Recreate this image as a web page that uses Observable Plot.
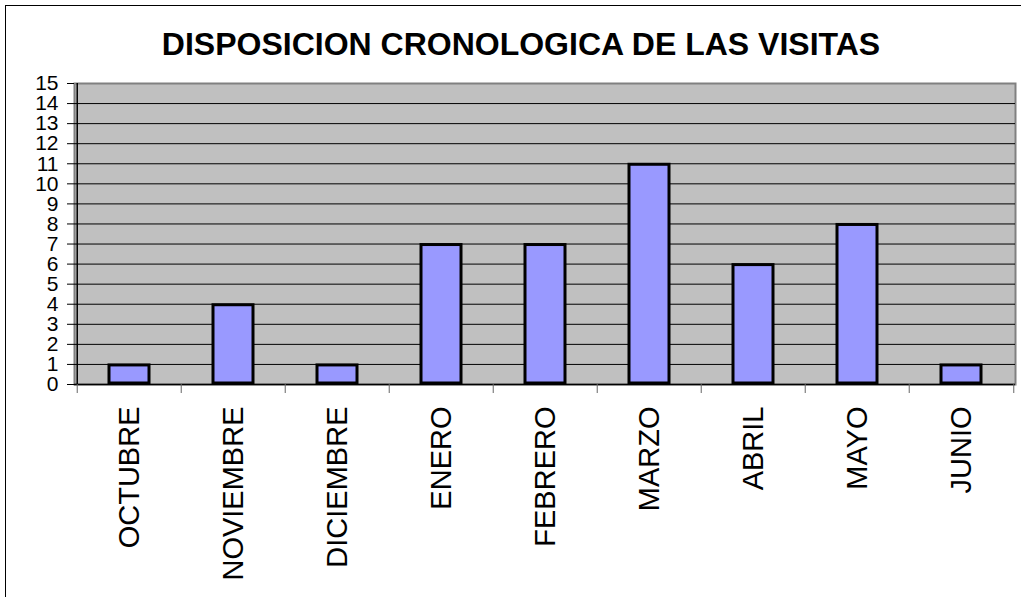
<!DOCTYPE html>
<html>
<head>
<meta charset="utf-8">
<script src="https://cdn.jsdelivr.net/npm/d3@7"></script>
<script src="https://cdn.jsdelivr.net/npm/@observablehq/plot@0.6"></script>
<style>
  html, body { margin: 0; padding: 0; background: #fff; overflow: hidden; }
  #wrap { position: relative; width: 1021px; height: 597px; font-family: "Liberation Sans", Arial, sans-serif; }
  #border { position: absolute; left: 5px; top: 5px; width: 1040px; height: 620px; border: 1px solid #000; box-sizing: border-box; }
  #title { position: absolute; left: 521px; top: 24px; transform: translateX(-50%); white-space: nowrap;
           font-weight: bold; font-size: 32px; line-height: 40px; color: #000; }
  #chart { position: absolute; left: 0; top: 0; }
  #chart svg { display: block; }
</style>
</head>
<body>
<div id="wrap">
  <div id="border"></div>
  <div id="title">DISPOSICION CRONOLOGICA DE LAS VISITAS</div>
  <div id="chart"></div>
</div>
<script>
const titleText = "DISPOSICION CRONOLOGICA DE LAS VISITAS";
const months = ["OCTUBRE", "NOVIEMBRE", "DICIEMBRE", "ENERO", "FEBRERO", "MARZO", "ABRIL", "MAYO", "JUNIO"];
const visits = [1, 4, 1, 7, 7, 11, 6, 8, 1];
const yTicks = d3.range(0, 16);
const gridTicks = d3.range(1, 15);

const data = months.map((m, i) => ({month: m, visits: visits[i]}));

const width = 1021, height = 597;
const marginLeft = 74, marginRight = 6, marginTop = 83, marginBottom = 213;
const step = (width - marginLeft - marginRight) / months.length;

const font = "Liberation Sans, Arial, sans-serif";

const chart = Plot.plot({
  width, height, marginLeft, marginRight, marginTop, marginBottom,
  style: {fontFamily: font, background: "transparent", color: "#000"},
  x: {type: "band", domain: months, paddingInner: 0.6, paddingOuter: 0.3, label: null},
  y: {domain: [0, 15], label: null},
  marks: [
    Plot.frame({fill: "#C0C0C0", stroke: "#808080", strokeWidth: 2}),
    Plot.gridY(gridTicks, {stroke: "#000", strokeOpacity: 1, strokeWidth: 1}),
    Plot.barY(data, {x: "month", y: "visits", fill: "#9999FF", stroke: "#000", strokeWidth: 3, inset: 1}),
    Plot.ruleY([0], {stroke: "#000", strokeWidth: 1.5}),
    Plot.ruleX(months.slice(0, 1), {dx: -step / 2, stroke: "#000", strokeWidth: 1.5}),
    Plot.axisY(yTicks, {tickSize: 7, tickPadding: 9, fontSize: 21, stroke: "#000", label: null, tickFormat: d => String(d)}),
    Plot.axisX(months, {tickSize: 9, dx: -step / 2, stroke: "#666", label: null, tickFormat: () => ""}),
    Plot.axisX(months.slice(-1), {tickSize: 9, dx: step / 2, stroke: "#666", label: null, tickFormat: () => ""}),
    Plot.axisX(months, {tickSize: 0, tickPadding: 22, tickRotate: -90, fontSize: 29, label: null})
  ]
});
document.getElementById("chart").appendChild(chart);
document.getElementById("title").textContent = titleText;
</script>
</body>
</html>
